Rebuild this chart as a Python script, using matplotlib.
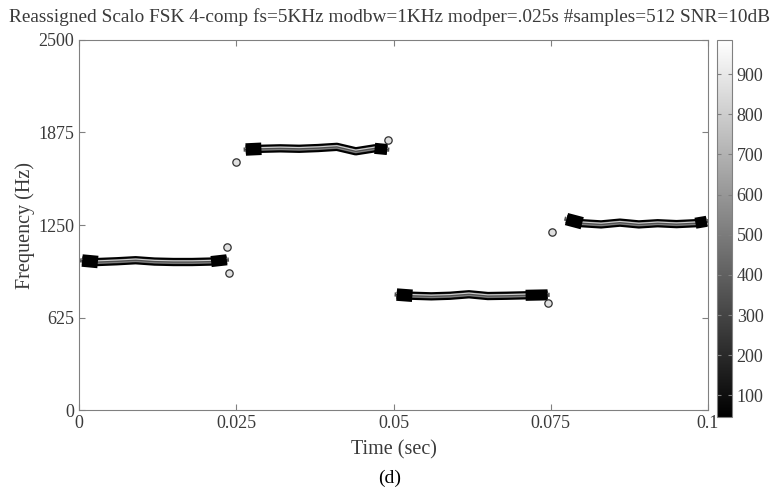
import numpy as np
import matplotlib
matplotlib.use('Agg')
import matplotlib.pyplot as plt
from matplotlib.cm import ScalarMappable
from matplotlib.colors import Normalize

plt.rcParams['font.family'] = ['Liberation Serif', 'DejaVu Serif']

# ridge of each FSK component (time in s, frequency in Hz)
seg_t = [
    [0.0005, 0.003, 0.006, 0.009, 0.012, 0.015, 0.018, 0.021, 0.0235],
    [0.0265, 0.029, 0.032, 0.035, 0.038, 0.041, 0.044, 0.047, 0.0490],
    [0.0505, 0.053, 0.056, 0.059, 0.062, 0.065, 0.068, 0.071, 0.0745],
    [0.0775, 0.080, 0.083, 0.086, 0.089, 0.092, 0.095, 0.098, 0.0998],
]
seg_f = [
    [1010, 1000, 1005, 1012, 1003, 1000, 1000, 1003, 1015],
    [1760, 1765, 1768, 1765, 1770, 1778, 1748, 1768, 1760],
    [780, 772, 768, 772, 782, 770, 772, 775, 778],
    [1290, 1262, 1254, 1266, 1254, 1262, 1256, 1262, 1275],
]
# small side lobes at the switching instants
lobe_t = [0.0235, 0.0238, 0.0249, 0.0492, 0.0745, 0.0752]
lobe_f = [1100, 925, 1675, 1825, 720, 1205]

xticks = [0, 0.025, 0.05, 0.075, 0.1]
xtick_labels = ['0', '0.025', '0.05', '0.075', '0.1']
yticks = [0, 625, 1250, 1875, 2500]
cbar_ticks = [100, 200, 300, 400, 500, 600, 700, 800, 900]
cmin, cmax = 46, 985

txt = '#3a3a3a'
fig = plt.figure(figsize=(7.8, 4.95), dpi=100)
ax = fig.add_axes([0.1013, 0.1717, 0.8064, 0.7475])

for t, f in zip(seg_t, seg_f):
    ax.plot(t, f, color='black', lw=6.0, solid_capstyle='butt')
    ax.plot(t, f, color='#505050', lw=3.0)
    ax.plot(t, np.array(f) + 8, color='#cfcfcf', lw=0.8)
    ax.plot(t, np.array(f) - 8, color='#8a8a8a', lw=0.6)
    # thicker blobs at the ends
    ax.plot(t[:2], f[:2], color='black', lw=9, solid_capstyle='butt')
    ax.plot(t[-2:], f[-2:], color='black', lw=8, solid_capstyle='butt')

ax.scatter(lobe_t, lobe_f, s=28, facecolor='#e0e0e0', edgecolor='#303030', lw=0.9, zorder=3)

ax.set_xlim(0, 0.1)
ax.set_ylim(0, 2500)
ax.set_xticks(xticks)
ax.set_xticklabels(xtick_labels)
ax.set_yticks(yticks)
ax.tick_params(direction='in', length=4, color='#808080', labelcolor=txt,
               labelsize=13, top=True, right=True)
for s in ax.spines.values():
    s.set_color('#808080')
ax.set_xlabel('Time (sec)', fontsize=14.5, color=txt, labelpad=6)
ax.set_ylabel('Frequency (Hz)', fontsize=14.5, color=txt, labelpad=2)
fig.text(0.5, 0.966, 'Reassigned Scalo FSK 4-comp fs=5KHz modbw=1KHz modper=.025s #samples=512 SNR=10dB',
         ha='center', va='center', fontsize=13.9, color=txt)

cax = fig.add_axes([0.919, 0.1576, 0.0192, 0.7616])
sm = ScalarMappable(norm=Normalize(cmin, cmax), cmap='gray')
cb = fig.colorbar(sm, cax=cax, ticks=cbar_ticks)
cb.outline.set_edgecolor('#808080')
cax.tick_params(direction='in', length=3, color='#808080', labelcolor=txt,
                labelsize=13, left=True, right=True)

fig.text(0.5, 0.025, '(d)', ha='center', fontsize=14, color='black')

fig.savefig('out.png', dpi=100)
